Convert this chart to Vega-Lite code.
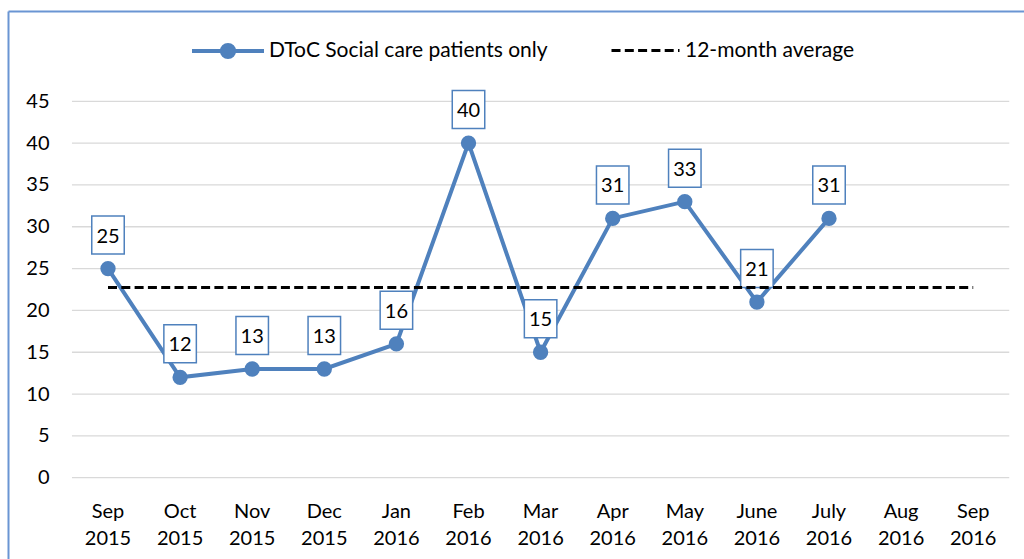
{
  "$schema": "https://vega.github.io/schema/vega-lite/v6.json",
  "width": 1016,
  "height": 548,
  "autosize": {"type": "none"},
  "padding": {"left": 8, "top": 11, "right": 0, "bottom": 0},
  "background": "white",
  "config": {
    "view": {"stroke": null},
    "font": "Lato",
    "text": {"font": "Lato"}
  },
  "datasets": {
    "main": [
      {"month": "Sep 2015", "value": 25, "series": "DToC Social care patients only"},
      {"month": "Oct 2015", "value": 12, "series": "DToC Social care patients only"},
      {"month": "Nov 2015", "value": 13, "series": "DToC Social care patients only"},
      {"month": "Dec 2015", "value": 13, "series": "DToC Social care patients only"},
      {"month": "Jan 2016", "value": 16, "series": "DToC Social care patients only"},
      {"month": "Feb 2016", "value": 40, "series": "DToC Social care patients only"},
      {"month": "Mar 2016", "value": 15, "series": "DToC Social care patients only"},
      {"month": "Apr 2016", "value": 31, "series": "DToC Social care patients only"},
      {"month": "May 2016", "value": 33, "series": "DToC Social care patients only"},
      {"month": "June 2016", "value": 21, "series": "DToC Social care patients only"},
      {"month": "July 2016", "value": 31, "series": "DToC Social care patients only"},
      {"month": "Sep 2015", "value": 22.73, "series": "12-month average"},
      {"month": "Oct 2015", "value": 22.73, "series": "12-month average"},
      {"month": "Nov 2015", "value": 22.73, "series": "12-month average"},
      {"month": "Dec 2015", "value": 22.73, "series": "12-month average"},
      {"month": "Jan 2016", "value": 22.73, "series": "12-month average"},
      {"month": "Feb 2016", "value": 22.73, "series": "12-month average"},
      {"month": "Mar 2016", "value": 22.73, "series": "12-month average"},
      {"month": "Apr 2016", "value": 22.73, "series": "12-month average"},
      {"month": "May 2016", "value": 22.73, "series": "12-month average"},
      {"month": "June 2016", "value": 22.73, "series": "12-month average"},
      {"month": "July 2016", "value": 22.73, "series": "12-month average"},
      {"month": "Aug 2016", "value": 22.73, "series": "12-month average"},
      {"month": "Sep 2016", "value": 22.73, "series": "12-month average"}
    ],
    "grid": [
      {"value": 0}, {"value": 5}, {"value": 10}, {"value": 15}, {"value": 20},
      {"value": 25}, {"value": 30}, {"value": 35}, {"value": 40}, {"value": 45}
    ]
  },
  "layer": [
    {
      "data": {"name": "grid"},
      "mark": {"type": "rule", "stroke": "#D9D9D9", "strokeWidth": 1.3},
      "encoding": {
        "x": {
          "datum": "Sep 2015",
          "type": "nominal",
          "bandPosition": 0,
          "scale": {
            "type": "band",
            "domain": ["Sep 2015", "Oct 2015", "Nov 2015", "Dec 2015", "Jan 2016", "Feb 2016", "Mar 2016", "Apr 2016", "May 2016", "June 2016", "July 2016", "Aug 2016", "Sep 2016"],
            "paddingInner": 0,
            "paddingOuter": 0.5458,
            "align": 0.8126
          },
          "axis": {
            "orient": "top",
            "title": null,
            "domain": true,
            "domainColor": "#6A95D3",
            "domainWidth": 2,
            "ticks": false,
            "tickSize": 0,
            "grid": false,
            "labelPadding": -500,
            "labelBaseline": "middle",
            "labelLineHeight": 27,
            "labelAngle": 0,
            "labelExpr": "split(datum.label, ' ')",
            "labelFont": "Lato",
            "labelFontSize": 20,
            "labelColor": "black",
            "labelOverlap": false,
            "labelBound": false
          }
        },
        "x2": {"datum": "Sep 2016", "bandPosition": 1},
        "y": {
          "field": "value",
          "type": "quantitative",
          "scale": {"domain": [-9.72, 55.796], "nice": false, "zero": false},
          "axis": {
            "orient": "left",
            "title": null,
            "domain": true,
            "domainColor": "#6A95D3",
            "domainWidth": 2,
            "ticks": false,
            "tickSize": 0,
            "grid": false,
            "values": [0, 5, 10, 15, 20, 25, 30, 35, 40, 45],
            "labelPadding": -41,
            "labelAlign": "right",
            "labelBaseline": "middle",
            "labelFont": "Lato",
            "labelFontSize": 20,
            "labelColor": "black",
            "labelOverlap": false,
            "labelBound": false
          }
        }
      }
    },
    {
      "data": {"name": "main"},
      "transform": [{"filter": "datum.series === 'DToC Social care patients only'"}],
      "mark": {"type": "line", "strokeWidth": 4},
      "encoding": {
        "x": {"field": "month", "type": "nominal", "bandPosition": 0.5},
        "y": {"field": "value", "type": "quantitative"},
        "color": {
          "field": "series",
          "type": "nominal",
          "scale": {
            "domain": ["DToC Social care patients only"],
            "range": ["#4F81BD"]
          },
          "legend": {
            "orient": "none",
            "legendX": 182,
            "legendY": 2,
            "direction": "horizontal",
            "title": null,
            "padding": 0,
            "symbolType": "M-1,0H1M0.17,0A0.17,0.17,0,1,1,-0.17,0A0.17,0.17,0,1,1,0.17,0Z",
            "symbolSize": 5184,
            "symbolStrokeWidth": 4,
            "labelFont": "Lato",
            "labelFontSize": 21,
            "labelColor": "black",
            "labelLimit": 500,
            "labelOffset": 3,
            "encode": {
              "symbols": {
                "update": {
                  "fill": {"value": "#4F81BD"},
                  "stroke": {"value": "#4F81BD"},
                  "strokeWidth": {"value": 4},
                  "opacity": {"value": 1}
                }
              }
            }
          }
        }
      }
    },
    {
      "data": {"name": "main"},
      "transform": [{"filter": "datum.series === 'DToC Social care patients only'"}],
      "mark": {"type": "point", "shape": "circle", "filled": true, "size": 235, "color": "#4F81BD", "opacity": 1},
      "encoding": {
        "x": {"field": "month", "type": "nominal", "bandPosition": 0.5},
        "y": {"field": "value", "type": "quantitative"}
      }
    },
    {
      "data": {"name": "main"},
      "transform": [{"filter": "datum.series === 'DToC Social care patients only'"}],
      "mark": {
        "type": "point",
        "shape": "M-0.855,-1H0.855V1H-0.855Z",
        "size": 1444,
        "filled": false,
        "fill": "white",
        "fillOpacity": 1,
        "stroke": "#4F81BD",
        "strokeWidth": 1.5,
        "opacity": 1,
        "yOffset": -33.5
      },
      "encoding": {
        "x": {"field": "month", "type": "nominal", "bandPosition": 0.5},
        "y": {"field": "value", "type": "quantitative"}
      }
    },
    {
      "data": {"name": "main"},
      "transform": [{"filter": "datum.series === 'DToC Social care patients only'"}],
      "mark": {
        "type": "text",
        "font": "Lato",
        "fontSize": 20,
        "color": "black",
        "align": "center",
        "baseline": "middle",
        "yOffset": -32
      },
      "encoding": {
        "x": {"field": "month", "type": "nominal", "bandPosition": 0.5},
        "y": {"field": "value", "type": "quantitative"},
        "text": {"field": "value", "type": "quantitative"}
      }
    },
    {
      "data": {"name": "main"},
      "transform": [{"filter": "datum.series === '12-month average'"}],
      "mark": {"type": "line", "strokeWidth": 3, "color": "black"},
      "encoding": {
        "x": {"field": "month", "type": "nominal", "bandPosition": 0.5},
        "y": {"field": "value", "type": "quantitative"},
        "strokeDash": {
          "field": "series",
          "type": "nominal",
          "scale": {"domain": ["12-month average"], "range": [[9, 4.3]]},
          "legend": {
            "orient": "none",
            "legendX": 602,
            "legendY": 4,
            "direction": "horizontal",
            "title": null,
            "padding": 0,
            "symbolType": "stroke",
            "symbolSize": 4624,
            "symbolStrokeWidth": 3,
            "labelFont": "Lato",
            "labelFontSize": 21,
            "labelColor": "black",
            "labelLimit": 500,
            "labelOffset": 4,
            "encode": {
              "symbols": {
                "update": {
                  "stroke": {"value": "black"},
                  "strokeWidth": {"value": 3},
                  "opacity": {"value": 1}
                }
              }
            }
          }
        }
      }
    }
  ]
}
